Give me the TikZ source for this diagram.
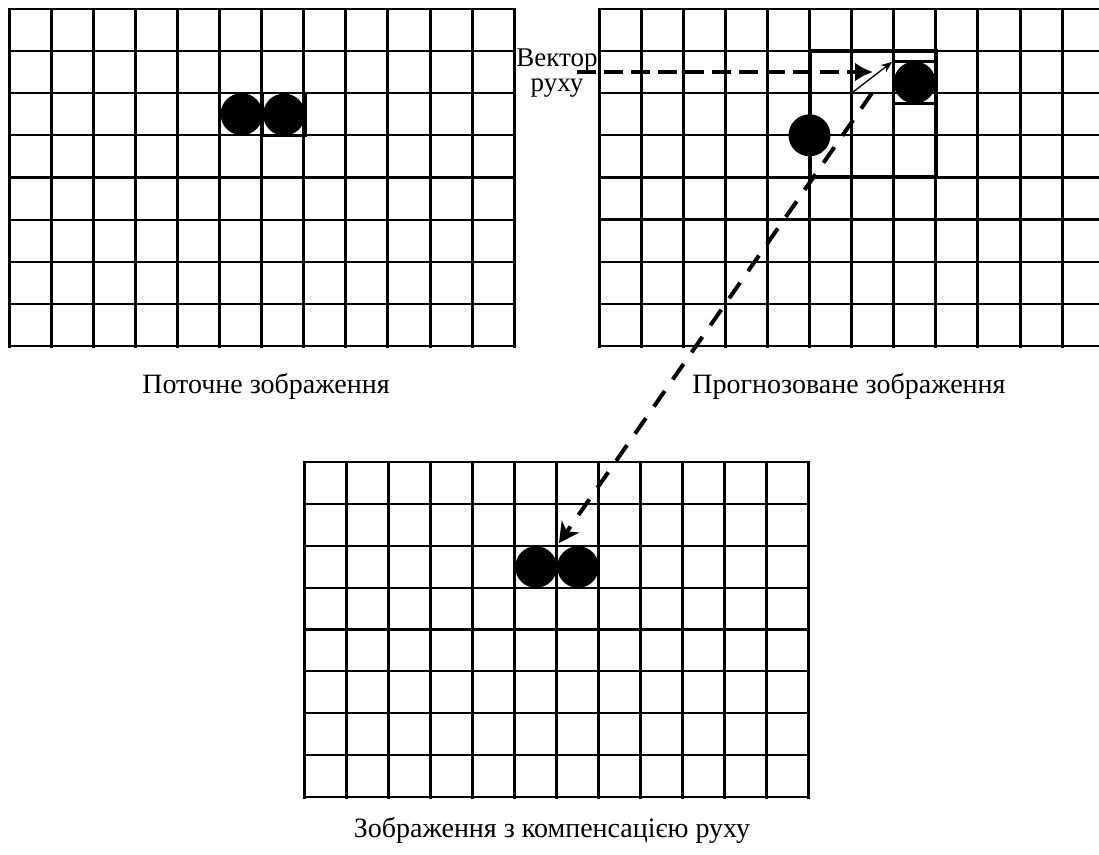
\documentclass[tikz,border=0pt]{standalone}
\usepackage{fontspec}
\setmainfont{Liberation Serif}
\usetikzlibrary{arrows.meta}
\begin{document}
\begin{tikzpicture}[x=1pt,y=-1pt,
  vline/.style={line width=3pt,line cap=rect},
  hline/.style={line width=2.2pt,line cap=rect},
  blob/.style={fill=black,draw=none},
  blockbox/.style={line width=2.2pt},
  searchbox/.style={line width=4pt,line cap=rect},
  vecdash/.style={line width=4pt,dash pattern=on 19pt off 8pt},
  diagdash/.style={line width=4pt,dash pattern=on 19pt off 14pt},
  lbl/.style={font=\fontsize{28}{25}\selectfont,inner sep=0pt},
  veclbl/.style={font=\fontsize{27}{25}\selectfont,inner sep=0pt}
]
\useasboundingbox (0,0) rectangle (1099,854);
\begin{scope}
\clip (0,0) rectangle (1099,854);
% ---- top-left grid (current frame)
\foreach \k in {0,...,12} \draw[vline] ({9+\k*42.11},9) -- ({9+\k*42.11},346);
\foreach \j in {0,...,8} \draw[hline] (9,{9+\j*42.125}) -- (514.3,{9+\j*42.125});
% ---- top-right grid (predicted frame)
\foreach \k in {0,...,12} \draw[vline] ({599+\k*42.1},9) -- ({599+\k*42.1},346);
\foreach \j in {0,...,8} \draw[hline] (599,{9+\j*42.1}) -- (1104,{9+\j*42.1});
% ---- bottom grid (compensated frame)
\foreach \k in {0,...,12} \draw[vline] ({304+\k*42.08},462) -- ({304+\k*42.08},797);
\foreach \j in {0,...,8} \draw[hline] (304,{462+\j*41.875}) -- (809,{462+\j*41.875});
\end{scope}
% ---- objects, current frame
\fill[blob] (241.6,114.2) circle (21);
\draw[blockbox] (262.7,93.2) rectangle (305.5,136);
\fill[blob] (284.1,114.6) circle (21);
% ---- search area and objects, predicted frame
\draw[searchbox] (809.5,51.1) rectangle (935.8,177.4);
\fill[blob] (809.5,135.3) circle (21);
\draw[blockbox] (893.7,61.5) rectangle (935.8,103.5);
\fill[blob] (914.7,82.5) circle (21);
% ---- objects, compensated frame
\fill[blob] (536,567) circle (20.8);
\fill[blob] (578,567) circle (20.8);
% ---- labels
\node[lbl,anchor=base] (lcur) at (266,393) {Поточне зображення};
\node[lbl,anchor=base] (lpred) at (849,393) {Прогнозоване зображення};
\node[lbl,anchor=base] (lcomp) at (552,837) {Зображення з компенсацією руху};
\node[veclbl,anchor=north,align=center] (lvec) at (557,49) {Вектор\\руху};
% ---- motion vector connectors
\coordinate (vstart) at (577,72);
\coordinate (vend) at (873,72);
\coordinate (dtop) at (872,93);
\coordinate (dbot) at (559,543);
\coordinate (tstart) at (853,92);
\coordinate (tend) at (892,62);
\draw[vecdash,-{Latex[length=18pt,width=19pt]}] (vstart) -- (vend);
\draw[diagdash,-{Stealth[length=20pt,width=21pt,inset=6pt]}] (dtop) -- (dbot);
\draw[line width=1.3pt,-{Stealth[length=11pt,width=9pt]}] (tstart) -- (tend);
\end{tikzpicture}
\end{document}
